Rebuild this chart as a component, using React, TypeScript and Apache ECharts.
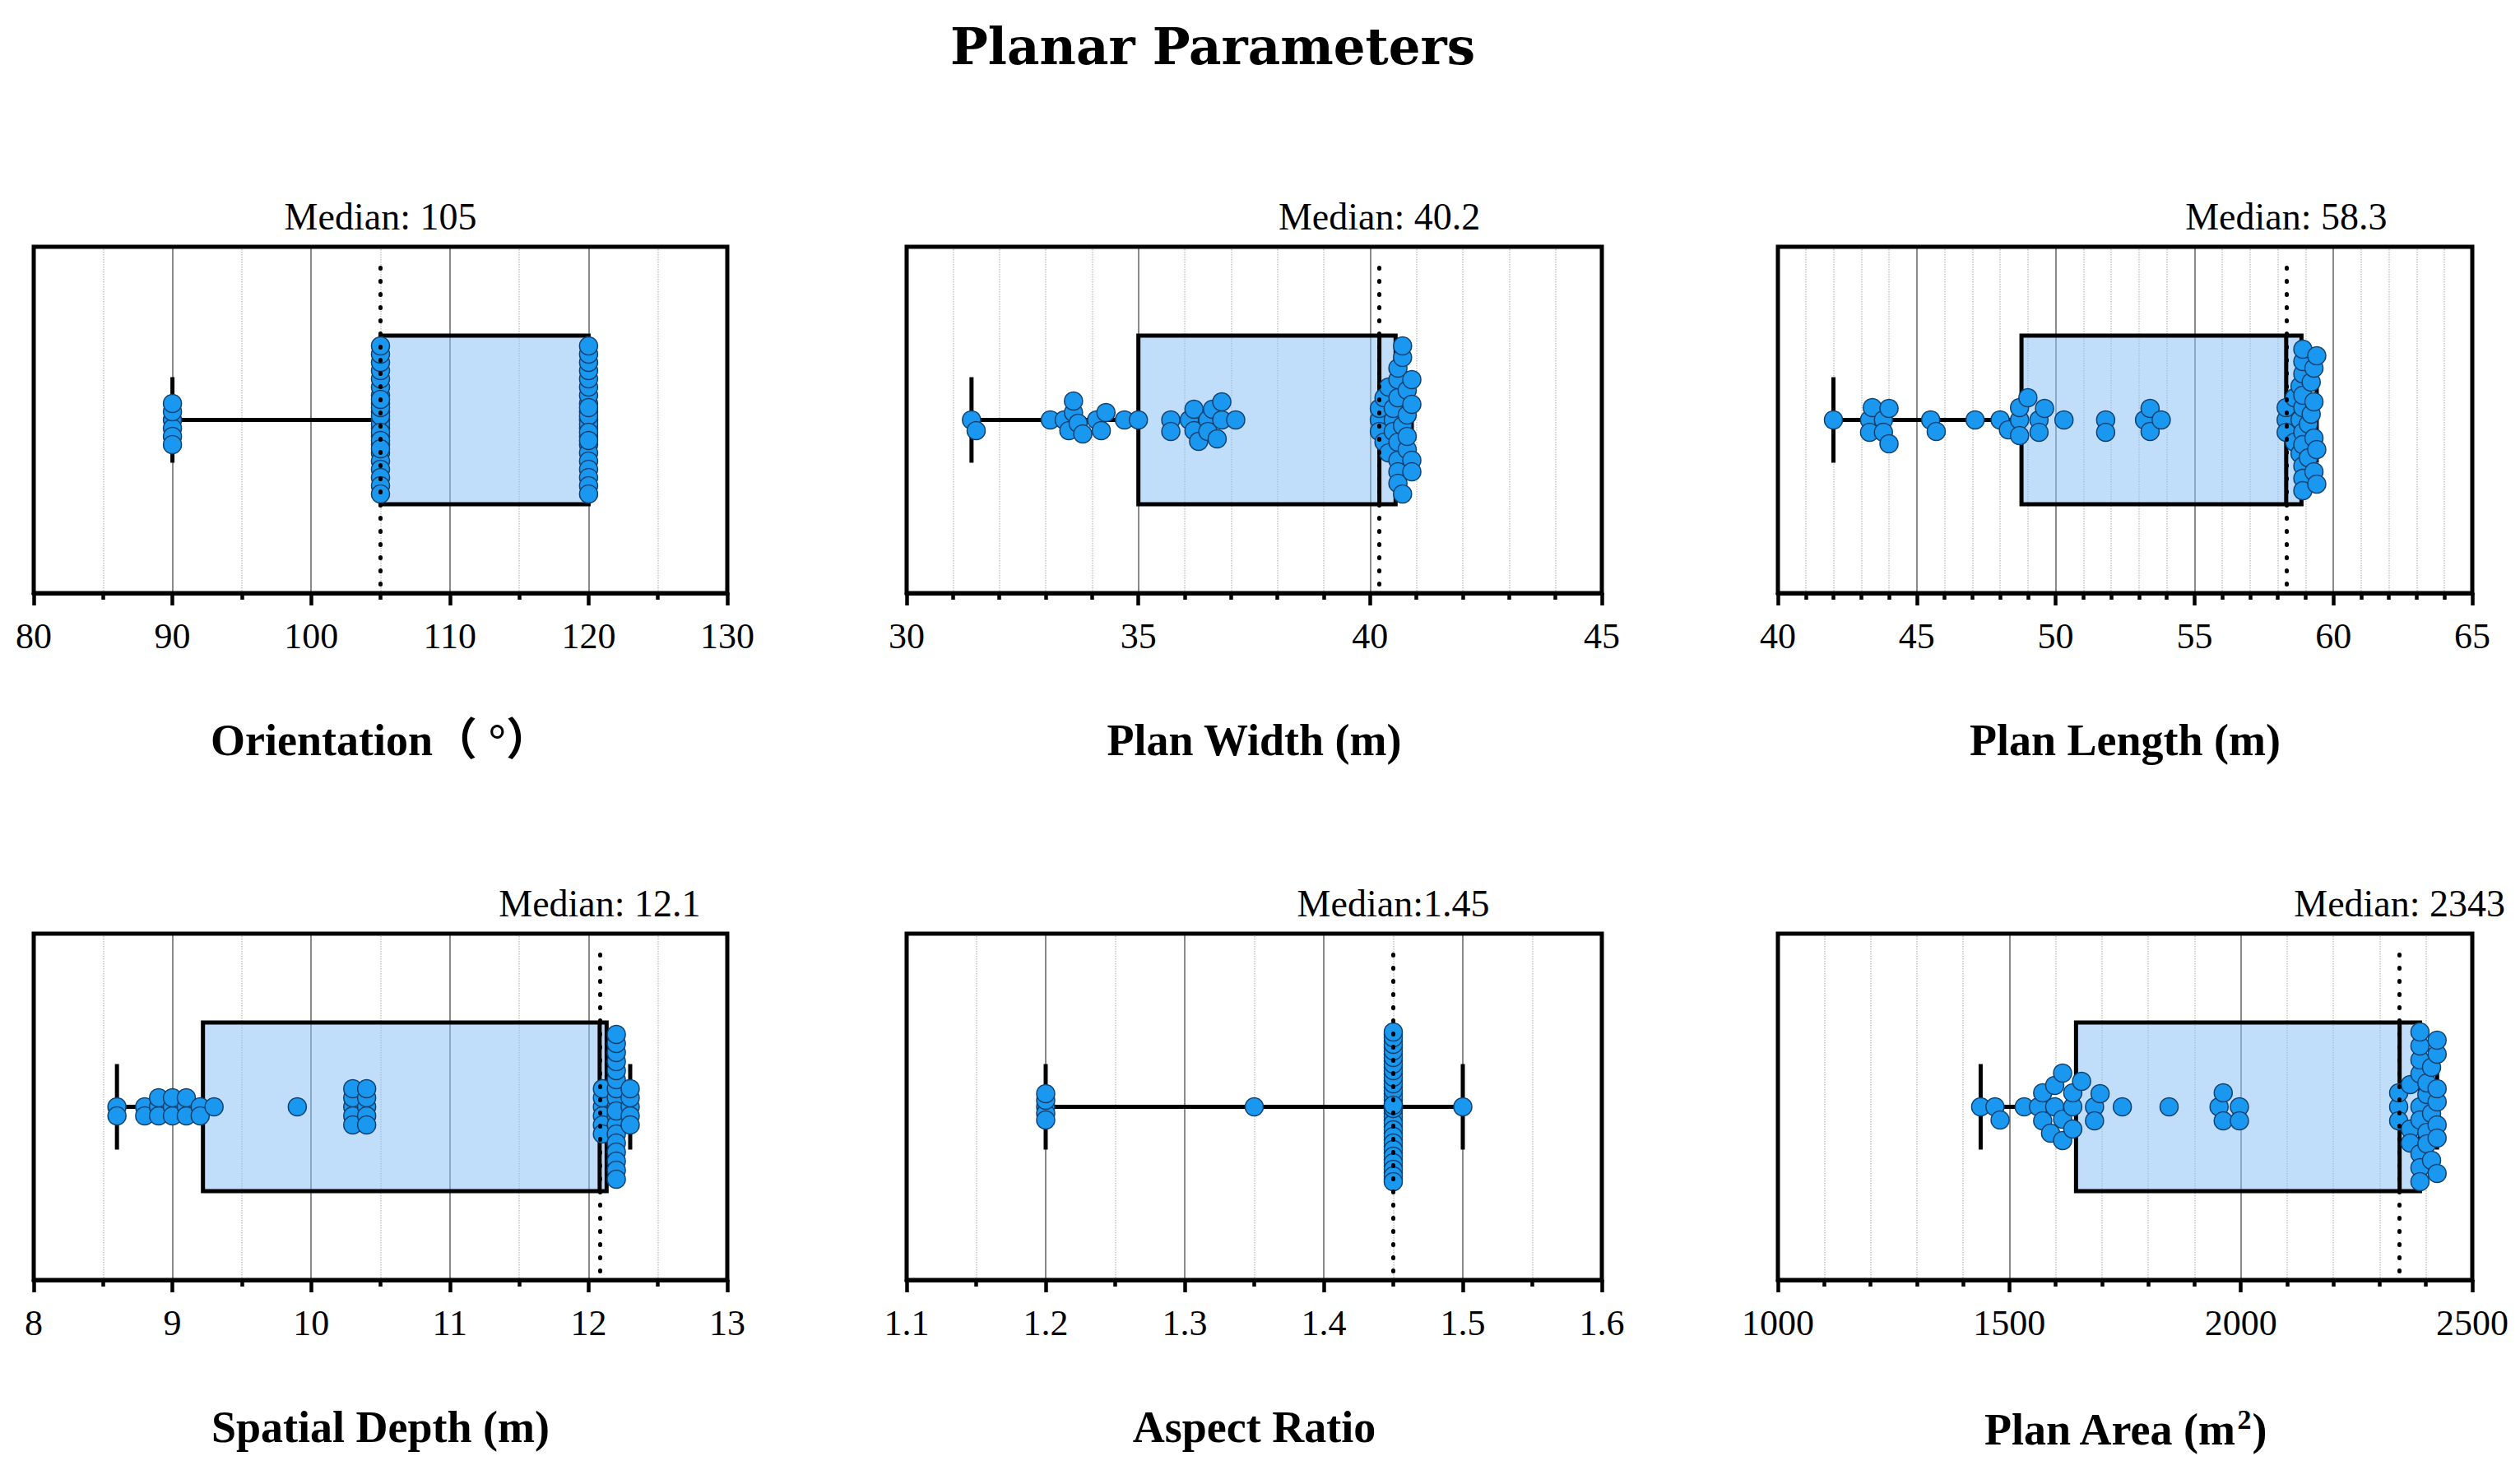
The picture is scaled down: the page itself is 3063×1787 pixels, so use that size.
import React, { useEffect, useRef } from "react";
import * as echarts from "echarts";

// ---------------- data ----------------
const chartTitle = "Planar Parameters";
const axisNames = [
  "Orientation（ °）",
  "Plan Width (m)",
  "Plan Length (m)",
  "Spatial Depth (m)",
  "Aspect Ratio",
  "{a|Plan Area (m}{s|2}{a|)}",
];
const medianLabels = [
  "Median: 105",
  "Median: 40.2",
  "Median: 58.3",
  "Median: 12.1",
  "Median:1.45",
  "Median: 2343",
];
const axisMin = [80, 30, 40, 8, 1.1, 1000];
const axisMax = [130, 45, 65, 13, 1.6, 2500];
const axisInterval = [10, 5, 5, 1, 0.1, 500];
const minorSplit = [2, 5, 5, 2, 2, 5];
const labelDecimals = [0, 0, 0, 0, 1, 0];

const orientation = [
  90, 90, 90, 90, 90, 90,
  105, 105, 105, 105, 105, 105, 105, 105, 105, 105, 105, 105, 105,
  105, 105, 105, 105, 105, 105, 105, 105, 105, 105, 105, 105, 105,
  120, 120, 120, 120, 120, 120, 120, 120, 120, 120, 120, 120,
  120, 120, 120, 120, 120, 120, 120, 120, 120, 120, 120, 120,
];
const planWidth = [
  31.4, 31.5, 33.1, 33.4, 33.5, 33.6, 33.6, 33.7, 33.8, 34.1, 34.2, 34.3,
  34.7, 35.0, 35.7, 35.7, 36.1, 36.2, 36.2, 36.3, 36.5, 36.5, 36.6, 36.7,
  36.8, 36.8, 37.1,
  40.2, 40.2, 40.2, 40.3, 40.3, 40.4, 40.4, 40.5, 40.5, 40.5,
  40.6, 40.6, 40.6, 40.6, 40.6, 40.6, 40.6, 40.7, 40.7, 40.7, 40.7,
  40.8, 40.8, 40.8, 40.8, 40.9, 40.9, 40.9, 40.9,
];
const planLength = [
  42.0, 43.3, 43.3, 43.4, 43.8, 43.8, 44.0, 44.0, 45.5, 45.7, 47.1, 48.0,
  48.3, 48.7, 48.7, 48.7, 49.0, 49.4, 49.4, 49.6, 50.3, 51.8, 51.8, 53.2,
  53.4, 53.4, 53.8,
  58.3, 58.3, 58.3, 58.6, 58.6, 58.8, 58.8, 58.8,
  58.9, 58.9, 58.9, 58.9, 58.9, 58.9, 58.9, 58.9, 58.9, 58.9,
  59.1, 59.1, 59.2, 59.2, 59.3, 59.3, 59.3, 59.3, 59.4, 59.4, 59.4,
];
const spatialDepth = [
  8.6, 8.6, 8.8, 8.8, 8.9, 8.9, 8.9, 9.0, 9.0, 9.0, 9.1, 9.1, 9.1, 9.2, 9.2,
  9.3, 9.9, 10.3, 10.3, 10.3, 10.3, 10.3, 10.4, 10.4, 10.4, 10.4, 10.4,
  12.1, 12.1, 12.1, 12.1, 12.1, 12.1,
  12.2, 12.2, 12.2, 12.2, 12.2, 12.2, 12.2, 12.2, 12.2,
  12.2, 12.2, 12.2, 12.2, 12.2, 12.2, 12.2, 12.2, 12.2,
  12.3, 12.3, 12.3, 12.3, 12.3,
];
const aspectRatio = [
  1.2, 1.2, 1.2, 1.2, 1.2, 1.35,
  1.45, 1.45, 1.45, 1.45, 1.45, 1.45, 1.45, 1.45, 1.45, 1.45,
  1.45, 1.45, 1.45, 1.45, 1.45, 1.45, 1.45, 1.45, 1.45, 1.45,
  1.45, 1.45, 1.45, 1.45, 1.45, 1.45, 1.45, 1.45, 1.45, 1.45,
  1.45, 1.45, 1.45, 1.45, 1.45, 1.45, 1.45, 1.45, 1.45, 1.45,
  1.45, 1.45, 1.45, 1.45, 1.45, 1.45, 1.45, 1.45, 1.45,
  1.5,
];
const planArea = [
  1438, 1469, 1480, 1532, 1563, 1572, 1572, 1589, 1598, 1598, 1615, 1615,
  1615, 1637, 1637, 1637, 1656, 1684, 1684, 1696, 1744, 1845, 1953, 1962,
  1962, 1997, 1997,
  2341, 2341, 2341, 2366, 2366, 2366,
  2387, 2387, 2387, 2387, 2387, 2387, 2387, 2387, 2387,
  2402, 2402, 2402, 2402, 2412, 2412, 2412,
  2424, 2424, 2424, 2424, 2424, 2424, 2424,
];
const panelValues = [orientation, planWidth, planLength, spatialDepth, aspectRatio, planArea];

// box statistics: min, Q1, median, Q3, max
const boxMin = [90, 31.4, 42.0, 8.6, 1.2, 1438];
const boxQ1 = [105, 35.0, 48.77, 9.22, 1.45, 1644];
const boxMedian = [105, 40.2, 58.3, 12.08, 1.45, 2343];
const boxQ3 = [120, 40.55, 58.85, 12.13, 1.45, 2387];
const boxMax = [120, 40.9, 59.4, 12.3, 1.5, 2424];

// ---------------- layout / style ----------------
const GRID_LEFT = [41, 1102, 2161];
const GRID_WIDTH = [843, 845, 844];
const GRID_TOP = [300, 1135];
const GRID_HEIGHT = 421;
const DOT = 22;
const SWARM_GAP = [10, 14, 15, 11, 8, 17];
const SWARM_MAX = 91;
const BOX_HALF = 0.487;
const CAP_HALF = 0.247;
const SERIF = "'Liberation Serif', 'Noto Sans CJK SC', serif";
const BOX_FILL = "rgba(140,195,245,0.55)";
const DOT_FILL = "#1A98F0";
const DOT_BORDER = "#12406E";

// deterministic beeswarm layout (pixel offsets)
function swarmOffsets(values: number[], pxPerUnit: number, gap: number, maxOff: number): number[] {
  const order = values.map((_, i) => i).sort((a, b) => values[a] - values[b]);
  const placed: { x: number; y: number }[] = [];
  const out: number[] = values.map(() => 0);
  for (const i of order) {
    const x = values[i] * pxPerUnit;
    const near = placed.filter((p) => Math.abs(p.x - x) < gap);
    let chosen: number | null = null;
    let fallback = 0;
    let fallbackScore = -1;
    outer: for (let k = 0; k <= maxOff; k++) {
      const cands = k === 0 ? [0] : [k, -k];
      for (const s of cands) {
        let minD = Infinity;
        for (const p of near) {
          const d = Math.hypot(p.x - x, p.y - s);
          if (d < minD) minD = d;
        }
        if (minD >= gap) {
          chosen = s;
          break outer;
        }
        if (minD > fallbackScore + 1e-9) {
          fallbackScore = minD;
          fallback = s;
        }
      }
    }
    const y = chosen === null ? fallback : chosen;
    placed.push({ x, y });
    out[i] = y;
  }
  return out;
}

function buildOption() {
  const grid: any[] = [];
  const xAxis: any[] = [];
  const yAxis: any[] = [];
  const series: any[] = [];
  for (let i = 0; i < 6; i++) {
    const col = i % 3;
    const row = Math.floor(i / 3);
    grid.push({
      left: GRID_LEFT[col],
      top: GRID_TOP[row],
      width: GRID_WIDTH[col],
      height: GRID_HEIGHT,
      show: true,
      borderColor: "#000",
      borderWidth: 5,
      backgroundColor: "transparent",
      z: 6,
    });
    const dec = labelDecimals[i];
    xAxis.push({
      gridIndex: i,
      type: "value",
      min: axisMin[i],
      max: axisMax[i],
      interval: axisInterval[i],
      axisLine: { onZero: false, lineStyle: { color: "#000", width: 5 } },
      axisTick: { length: 15, lineStyle: { color: "#000", width: 4.5 } },
      minorTick: { show: true, splitNumber: minorSplit[i], length: 8, lineStyle: { color: "#000", width: 4.5 } },
      splitLine: { show: true, showMinLine: false, showMaxLine: false, lineStyle: { color: "#8a8a8a", width: 2 } },
      minorSplitLine: { show: true, lineStyle: { color: "#c4c4c4", width: 1.5, type: "dotted" } },
      axisLabel: {
        fontSize: 44,
        fontFamily: SERIF,
        color: "#000",
        margin: 30,
        formatter: (v: number) => v.toFixed(dec),
      },
      name: axisNames[i],
      nameLocation: "middle",
      nameGap: 152,
      nameTextStyle: {
        fontSize: 54,
        fontWeight: "bold",
        fontFamily: SERIF,
        color: "#000",
        rich: {
          a: { fontSize: 54, fontWeight: "bold", fontFamily: SERIF, color: "#000", lineHeight: 60 },
          s: { fontSize: 34, fontWeight: "bold", fontFamily: SERIF, color: "#000", verticalAlign: "top", lineHeight: 60, padding: [0, 1, 0, 1] },
        },
      },
    });
    yAxis.push({ gridIndex: i, type: "value", min: -1, max: 1, show: false });

    const md = boxMedian[i];
    series.push({
      type: "custom",
      xAxisIndex: i,
      yAxisIndex: i,
      z: 2,
      clip: false,
      encode: { x: [0, 1, 2, 3, 4] },
      data: [[boxMin[i], boxQ1[i], boxMedian[i], boxQ3[i], boxMax[i]]],
      renderItem: (params: any, api: any) => {
        const mn = api.value(0);
        const q1 = api.value(1);
        const m = api.value(2);
        const q3 = api.value(3);
        const mx = api.value(4);
        const top = api.coord([q1, BOX_HALF])[1];
        const bot = api.coord([q1, -BOX_HALF])[1];
        const mid = api.coord([q1, 0])[1];
        const capTop = api.coord([mn, CAP_HALF])[1];
        const capBot = api.coord([mn, -CAP_HALF])[1];
        const xMin = api.coord([mn, 0])[0];
        const xQ1 = api.coord([q1, 0])[0];
        const xMd = api.coord([m, 0])[0];
        const xQ3 = api.coord([q3, 0])[0];
        const xMax = api.coord([mx, 0])[0];
        const stroke = { stroke: "#000", lineWidth: 5, fill: null };
        return {
          type: "group",
          children: [
            { type: "line", shape: { x1: xMin, y1: mid, x2: xQ1, y2: mid }, style: stroke },
            { type: "line", shape: { x1: xQ3, y1: mid, x2: xMax, y2: mid }, style: stroke },
            { type: "line", shape: { x1: xMin, y1: capTop, x2: xMin, y2: capBot }, style: stroke },
            { type: "line", shape: { x1: xMax, y1: capTop, x2: xMax, y2: capBot }, style: stroke },
            {
              type: "rect",
              shape: { x: xQ1, y: top, width: xQ3 - xQ1, height: bot - top },
              style: { fill: BOX_FILL, stroke: "#000", lineWidth: 5 },
            },
            { type: "line", shape: { x1: xMd, y1: top, x2: xMd, y2: bot }, style: stroke },
          ],
        };
      },
      markLine: {
        silent: true,
        symbol: "none",
        animation: false,
        data: [
          [
            {
              coord: [md, -0.95],
              lineStyle: { type: [1, 15], width: 5, cap: "round", color: "#000" },
              label: {
                show: true,
                position: "end",
                distance: 28,
                formatter: medianLabels[i],
                fontSize: 46,
                fontFamily: SERIF,
                color: "#000",
              },
            },
            { coord: [md, 0.93] },
          ],
          [
            {
              coord: [md, -1],
              lineStyle: { type: "solid", width: 6, color: "#000" },
              label: { show: false },
            },
            { coord: [md, -1.105] },
          ],
        ],
      },
    });

    const vals = panelValues[i];
    const pxPerUnit = GRID_WIDTH[col] / (axisMax[i] - axisMin[i]);
    const offs = swarmOffsets(vals, pxPerUnit, SWARM_GAP[i], SWARM_MAX);
    series.push({
      type: "scatter",
      xAxisIndex: i,
      yAxisIndex: i,
      z: 4,
      symbol: "circle",
      symbolSize: DOT,
      itemStyle: { color: DOT_FILL, borderColor: DOT_BORDER, borderWidth: 1.5, opacity: 1 },
      data: vals.map((v, k) => [v, -offs[k] / (GRID_HEIGHT / 2)]),
    });
  }
  return {
    animation: false,
    backgroundColor: "#fff",
    title: {
      text: chartTitle,
      left: 1155,
      top: 26,
      padding: 0,
      textStyle: { fontFamily: "'DejaVu Serif', serif", fontWeight: "bold", fontSize: 61, color: "#000" },
    },
    grid,
    xAxis,
    yAxis,
    series,
  };
}

export default function App() {
  const ref = useRef<HTMLDivElement>(null);
  useEffect(() => {
    const chart = echarts.init(ref.current as HTMLDivElement, null, { renderer: "svg" });
    chart.setOption(buildOption() as any);
    return () => chart.dispose();
  }, []);
  return (
    <div
      ref={ref}
      style={{ position: "absolute", left: 0, top: 0, width: 3063, height: 1787, background: "#fff" }}
    />
  );
}
